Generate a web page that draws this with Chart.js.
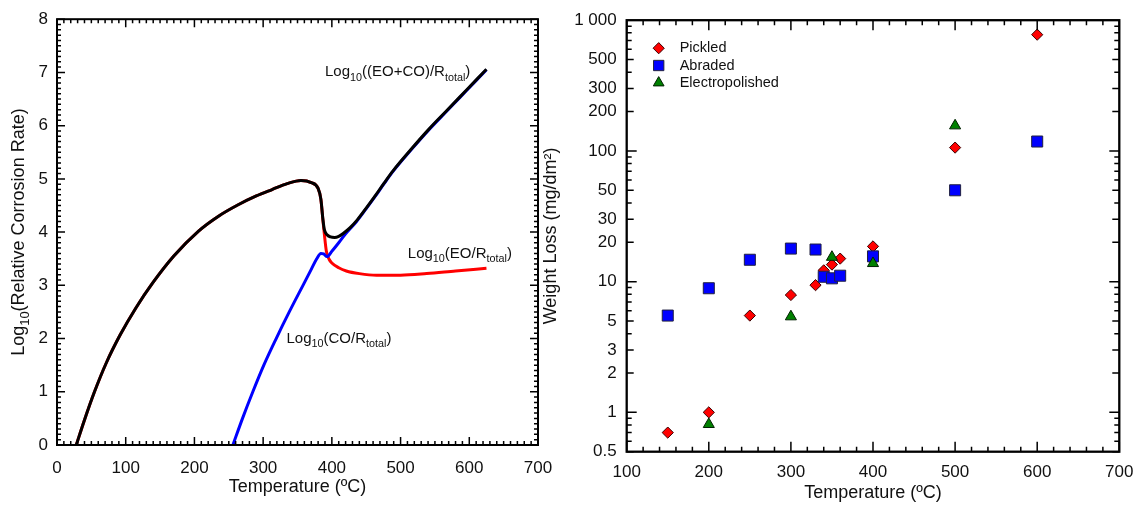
<!DOCTYPE html>
<html>
<head>
<meta charset="utf-8">
<script src="https://cdn.jsdelivr.net/npm/chart.js@4.4.1/dist/chart.umd.min.js"></script>
<style>
  html, body { margin: 0; padding: 0; background: #fff; }
  #wrap { position: relative; width: 1140px; height: 505px; }
  .panel { position: absolute; top: 0; height: 505px; }
  #left { left: 0; width: 560px; }
  #right { left: 540px; width: 600px; }
</style>
</head>
<body>
<div id="wrap">
  <div class="panel" id="left"><canvas id="rateChart"></canvas></div>
  <div class="panel" id="right"><canvas id="lossChart"></canvas></div>
</div>
<script>
// left panel: log10 of relative corrosion rate vs temperature
const eoTemp = [28, 40, 54, 72, 92, 115, 139, 170, 206, 235, 263, 290, 313, 335, 355, 370, 380, 384, 387, 389, 392, 396, 400, 410, 421, 440, 465, 500, 538, 580, 625];
const eoRate = [0, 0.47, 0.98, 1.55, 2.07, 2.58, 3.04, 3.55, 4.02, 4.3, 4.51, 4.68, 4.8, 4.91, 4.97, 4.93, 4.82, 4.62, 4.22, 3.97, 3.64, 3.49, 3.42, 3.33, 3.27, 3.22, 3.19, 3.19, 3.22, 3.27, 3.32];

const coTemp = [256, 270, 285, 301, 319, 338, 358, 370, 378, 384, 388, 393, 400, 410, 420, 436, 450, 463, 476, 489, 515, 541, 567, 596, 625];
const coRate = [0, 0.5, 1.0, 1.5, 2.0, 2.5, 3.0, 3.3, 3.5, 3.6, 3.59, 3.54, 3.64, 3.8, 3.97, 4.2, 4.44, 4.67, 4.91, 5.14, 5.54, 5.92, 6.27, 6.66, 7.05];

const totalTemp = [28, 40, 54, 72, 92, 115, 139, 170, 206, 235, 263, 290, 313, 335, 355, 370, 380, 384, 387, 389, 393, 398, 404, 410, 416, 427, 437, 450, 463, 476, 489, 515, 541, 567, 596, 625];
const totalRate = [0, 0.47, 0.98, 1.55, 2.07, 2.58, 3.04, 3.55, 4.02, 4.3, 4.51, 4.68, 4.8, 4.91, 4.97, 4.93, 4.82, 4.62, 4.24, 4.05, 3.95, 3.91, 3.9, 3.92, 3.97, 4.09, 4.23, 4.45, 4.68, 4.92, 5.15, 5.55, 5.93, 6.28, 6.67, 7.06];

const rateXTicks = [0, 100, 200, 300, 400, 500, 600, 700];
const rateYTicks = [0, 1, 2, 3, 4, 5, 6, 7, 8];

// right panel: weight loss of the three surface finishes
const pickledTemp = [150, 200, 250, 300, 330, 340, 350, 360, 400, 500, 600];
const pickledLoss = [0.70, 1.0, 5.5, 7.9, 9.4, 12.2, 13.5, 15.0, 18.6, 106, 775];
const abradedTemp = [150, 200, 250, 300, 330, 340, 350, 360, 400, 500, 600];
const abradedLoss = [5.5, 8.9, 14.7, 17.9, 17.6, 10.9, 10.6, 11.1, 15.6, 50, 118];
const electroTemp = [200, 300, 350, 400, 500];
const electroLoss = [0.81, 5.4, 15.4, 13.8, 156];

const lossXTicks = [100, 200, 300, 400, 500, 600, 700];
const lossYTicks = [0.5, 1, 2, 3, 5, 10, 20, 30, 50, 100, 200, 300, 500, 1000];

const FONT = '"Liberation Sans", Arial, Helvetica, sans-serif';
const INK = '#111';

function pts(xs, ys) {
    return xs.map((x, i) => ({ x: x, y: ys[i] }));
}

// text with sub/superscript pieces: parts = [[text, ''|'sub'|'sup'], ...]
function drawRich(ctx, parts, x, y, size, align) {
    const small = size * 0.72;
    let w = 0;
    parts.forEach(p => {
        ctx.font = (p[1] ? small : size) + 'px ' + FONT;
        w += ctx.measureText(p[0]).width;
    });
    let cx = align === 'center' ? x - w / 2 : x;
    parts.forEach(p => {
        ctx.font = (p[1] ? small : size) + 'px ' + FONT;
        const dy = p[1] === 'sub' ? size * 0.3 : (p[1] === 'sup' ? -size * 0.4 : 0);
        ctx.fillText(p[0], cx, y + dy);
        cx += ctx.measureText(p[0]).width;
    });
}

// closed frame with inward tick marks on all four sides
const boxTicks = {
    id: 'boxTicks',
    afterDraw(chart, args, o) {
        const { ctx, chartArea: a } = chart;
        const sx = chart.scales.x, sy = chart.scales.y;
        ctx.save();
        ctx.strokeStyle = '#000';
        ctx.lineWidth = o.tickWidth;
        ctx.beginPath();
        o.xMarks.forEach(m => {
            const px = sx.getPixelForValue(m[0]);
            ctx.moveTo(px, a.bottom); ctx.lineTo(px, a.bottom - m[1]);
            ctx.moveTo(px, a.top); ctx.lineTo(px, a.top + m[1]);
        });
        o.yMarks.forEach(m => {
            const py = sy.getPixelForValue(m[0]);
            ctx.moveTo(a.left, py); ctx.lineTo(a.left + m[1], py);
            ctx.moveTo(a.right, py); ctx.lineTo(a.right - m[1], py);
        });
        ctx.stroke();
        ctx.lineWidth = o.frameWidth;
        ctx.strokeRect(a.left, a.top, a.right - a.left, a.bottom - a.top);
        ctx.restore();
    }
};

// curve labels and rotated y title for the left panel
const rateText = {
    id: 'rateText',
    afterDraw(chart) {
        const { ctx } = chart;
        const sx = chart.scales.x, sy = chart.scales.y;
        ctx.save();
        ctx.fillStyle = INK;
        ctx.textBaseline = 'alphabetic';
        ctx.textAlign = 'left';
        drawRich(ctx, [['Log', ''], ['10', 'sub'], ['((EO+CO)/R', ''], ['total', 'sub'], [')', '']],
            sx.getPixelForValue(390), sy.getPixelForValue(6.93), 15, 'left');
        drawRich(ctx, [['Log', ''], ['10', 'sub'], ['(EO/R', ''], ['total', 'sub'], [')', '']],
            sx.getPixelForValue(510.5), sy.getPixelForValue(3.52), 15, 'left');
        drawRich(ctx, [['Log', ''], ['10', 'sub'], ['(CO/R', ''], ['total', 'sub'], [')', '']],
            sx.getPixelForValue(334), sy.getPixelForValue(1.92), 15, 'left');
        const a = chart.chartArea;
        ctx.translate(18, (a.top + a.bottom) / 2);
        ctx.rotate(-Math.PI / 2);
        drawRich(ctx, [['Log', ''], ['10', 'sub'], ['(Relative Corrosion Rate)', '']], 0, 6, 18, 'center');
        ctx.restore();
    }
};

// legend drawn inside the plot area of the right panel
const innerLegend = {
    id: 'innerLegend',
    afterDraw(chart) {
        const { ctx } = chart;
        const a = chart.chartArea;
        const sets = chart.data.datasets;
        ctx.save();
        ctx.textBaseline = 'middle';
        ctx.textAlign = 'left';
        ctx.font = '14.5px ' + FONT;
        sets.forEach((ds, i) => {
            const cy = a.top + 28 + i * 17.3;
            const cx = a.left + 32;
            ctx.fillStyle = ds.backgroundColor;
            ctx.strokeStyle = ds.borderColor;
            ctx.lineWidth = ds.borderWidth;
            Chart.helpers.drawPoint(ctx, { pointStyle: ds.pointStyle, radius: ds.legendRadius, rotation: 0, borderWidth: ds.borderWidth }, cx, cy);
            ctx.fillStyle = INK;
            ctx.fillText(ds.label, a.left + 53, cy);
        });
        ctx.restore();
    }
};

const tickFont = { family: FONT, size: 17 };
const titleFont = { family: FONT, size: 18 };

// minor tick lists
const rateXMarks = [], rateYMarks = [];
for (let t = 0; t <= 700; t += 10) rateXMarks.push([t, t % 100 === 0 ? 8 : 4]);
for (let k = 0; k <= 80; k++) rateYMarks.push([k / 10, k % 10 === 0 ? 8 : 4]);

const lossXMarks = [], lossYMarks = [];
for (let t = 100; t <= 700; t += 20) lossXMarks.push([t, t % 100 === 0 ? 10 : 5]);
[0.1, 1, 10, 100].forEach(dec => {
    for (let k = 1; k <= 9; k++) {
        const v = +(k * dec).toPrecision(3);
        if (v < 0.5 || v > 1000) continue;
        const len = k === 1 ? 10 : (lossYTicks.includes(v) ? 7 : 5);
        lossYMarks.push([v, len]);
    }
});

// keep the plot edges fixed: no extra room for the end labels
function noLabelPad(s) {
    s.paddingLeft = 0;
    s.paddingRight = 0;
}

new Chart(document.getElementById('rateChart'), {
    type: 'line',
    data: {
        datasets: [
            { label: 'EO', data: pts(eoTemp, eoRate), borderColor: '#ff0000', order: 3 },
            { label: 'CO', data: pts(coTemp, coRate), borderColor: '#0000ff', order: 2 },
            { label: 'EO+CO', data: pts(totalTemp, totalRate), borderColor: '#000000', order: 1 }
        ]
    },
    options: {
        responsive: true,
        maintainAspectRatio: false,
        animation: false,
        devicePixelRatio: 1,
        layout: { padding: { top: 18, right: 22, left: 0, bottom: 0 } },
        elements: {
            line: { borderWidth: 3, cubicInterpolationMode: 'monotone' },
            point: { radius: 0, hoverRadius: 0 }
        },
        plugins: {
            legend: { display: false },
            tooltip: { enabled: false },
            boxTicks: { xMarks: rateXMarks, yMarks: rateYMarks, tickWidth: 1.5, frameWidth: 2 }
        },
        scales: {
            x: {
                type: 'linear', min: 0, max: 700,
                afterBuildTicks: s => { s.ticks = rateXTicks.map(v => ({ value: v })); },
                afterFit: s => { s.height = 60; noLabelPad(s); },
                grid: { display: false, drawTicks: false }, border: { display: false },
                ticks: { font: tickFont, color: INK, padding: 13, maxRotation: 0, autoSkip: false },
                title: { display: true, text: 'Temperature (ºC)', font: titleFont, color: INK, padding: { top: 0, bottom: 7 } }
            },
            y: {
                type: 'linear', min: 0, max: 8,
                afterBuildTicks: s => { s.ticks = rateYTicks.map(v => ({ value: v })); },
                afterFit: s => { s.width = 57; },
                grid: { display: false, drawTicks: false }, border: { display: false },
                ticks: { font: tickFont, color: INK, padding: 9, autoSkip: false }
            }
        }
    },
    plugins: [boxTicks, rateText]
});

new Chart(document.getElementById('lossChart'), {
    type: 'scatter',
    data: {
        datasets: [
            { label: 'Pickled', data: pts(pickledTemp, pickledLoss), pointStyle: 'rectRot', pointRadius: 5.6, legendRadius: 5.6,
              backgroundColor: '#ff0000', borderColor: '#3a0000', borderWidth: 1, order: 3 },
            { label: 'Abraded', data: pts(abradedTemp, abradedLoss), pointStyle: 'rect', pointRadius: 7.8, legendRadius: 7.3,
              backgroundColor: '#0000ff', borderColor: '#202040', borderWidth: 1, order: 2 },
            { label: 'Electropolished', data: pts(electroTemp, electroLoss), pointStyle: 'triangle', pointRadius: 6.4, legendRadius: 6.2,
              backgroundColor: '#008000', borderColor: '#002000', borderWidth: 1, order: 1 }
        ]
    },
    options: {
        responsive: true,
        maintainAspectRatio: false,
        animation: false,
        devicePixelRatio: 1,
        layout: { padding: { top: 19.5, right: 20.7, left: 0, bottom: 0 } },
        plugins: {
            legend: { display: false },
            tooltip: { enabled: false },
            boxTicks: { xMarks: lossXMarks, yMarks: lossYMarks, tickWidth: 1.5, frameWidth: 2.3 }
        },
        scales: {
            x: {
                type: 'linear', min: 100, max: 700,
                afterBuildTicks: s => { s.ticks = lossXTicks.map(v => ({ value: v })); },
                afterFit: s => { s.height = 53.3; noLabelPad(s); },
                grid: { display: false, drawTicks: false }, border: { display: false },
                ticks: { font: tickFont, color: INK, padding: 10, maxRotation: 0, autoSkip: false },
                title: { display: true, text: 'Temperature (ºC)', font: titleFont, color: INK, padding: { top: 0, bottom: 1 } }
            },
            y: {
                type: 'logarithmic', min: 0.5, max: 1000,
                afterBuildTicks: s => { s.ticks = lossYTicks.map(v => ({ value: v })); },
                afterFit: s => { s.width = 86.7; },
                grid: { display: false, drawTicks: false }, border: { display: false },
                ticks: {
                    font: tickFont, color: INK, padding: 10, autoSkip: false,
                    callback: v => (v === 1000 ? '1 000' : String(v))
                },
                title: { display: true, text: 'Weight Loss (mg/dm²)', font: titleFont, color: INK, padding: { top: 0, bottom: 0 } }
            }
        }
    },
    plugins: [boxTicks, innerLegend]
});
</script>
</body>
</html>
